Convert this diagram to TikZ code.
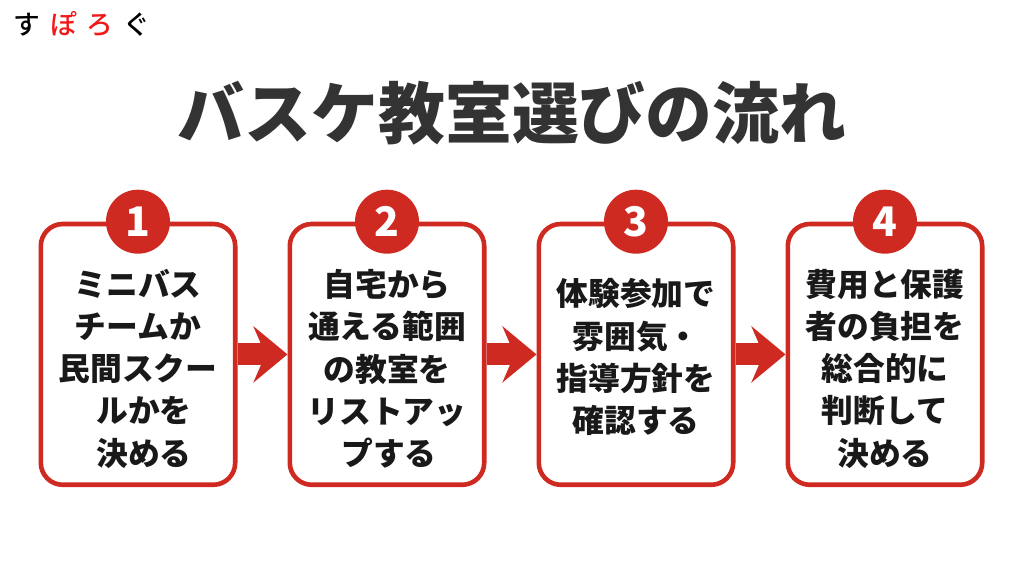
\documentclass[tikz,border=0pt]{standalone}
\usepackage{fontspec}
\usetikzlibrary{positioning}
\usetikzlibrary{arrows.meta}
\setmainfont{Noto Sans CJK JP}[BoldFont={Noto Sans CJK JP Black}]
\newfontfamily\logofont{Noto Sans CJK JP Medium}
\definecolor{stepred}{HTML}{CF2A22}
\definecolor{titlegray}{HTML}{333333}
\definecolor{logored}{HTML}{F01818}
\tikzset{
  stepbox/.style={draw=stepred, fill=white, line width=.115cm, rounded corners=.55cm,
    minimum width=4.86cm, minimum height=6.52cm},
  stepnum/.style={circle, fill=stepred, text=white, minimum size=1.6cm, inner sep=0pt,
    font=\fontsize{29}{29}\selectfont\bfseries},
  steptext/.style={align=center, text=black!90, inner sep=0pt,
    font=\fontsize{22.6}{30}\selectfont\bfseries},
  steparrow/.style={-{Stealth[length=.85cm, width=1.4cm, inset=.3cm]}, color=stepred, line width=.55cm},
}

\begin{document}
\begin{tikzpicture}
\useasboundingbox (0,0) rectangle (25.6,-14.3);

\node(logo) at (2.05,-.6) {\logofont\fontsize{19}{19}\selectfont す\hspace{.25cm}\textcolor{logored}{ぽ\hspace{.25cm}ろ}\hspace{.25cm}ぐ};
\node(title)[text=titlegray, font=\fontsize{47.6}{47.6}\selectfont\bfseries] at (12.8,-2.83) {バスケ教室選びの流れ};

\node(box1)[stepbox] at (3.45,-8.86) {};
\node(box2)[stepbox, right=1.25cm of box1] {};
\node(box3)[stepbox, right=1.25cm of box2] {};
\node(box4)[stepbox, right=1.25cm of box3] {};

\draw[steparrow] (box1.east)--(box2.west);
\draw[steparrow] (box2.east)--(box3.west);
\draw[steparrow] (box3.east)--(box4.west);

\node(num1)[stepnum] at (box1.north) {1};
\node(num2)[stepnum] at (box2.north) {2};
\node(num3)[stepnum] at (box3.north) {3};
\node(num4)[stepnum] at (box4.north) {4};

\node(text1)[steptext] at ([yshift=-.36cm]box1.center) {ミニバス\\チームか\\民間スクー\\\hspace*{.3cm}ルかを\\\hspace*{.3cm}決める};
\node(text2)[steptext] at ([yshift=-.36cm]box2.center) {自宅から\\通える範囲\\の教室を\\リストアッ\\\hspace*{.1cm}プする};
\node(text3)[steptext] at ([yshift=-.07cm]box3.center) {体験参加で\\雰囲気・\\指導方針を\\確認する};
\node(text4)[steptext] at ([yshift=-.36cm]box4.center) {費用と保護\\者の負担を\\総合的に\\判断して\\決める};
\end{tikzpicture}
\end{document}
